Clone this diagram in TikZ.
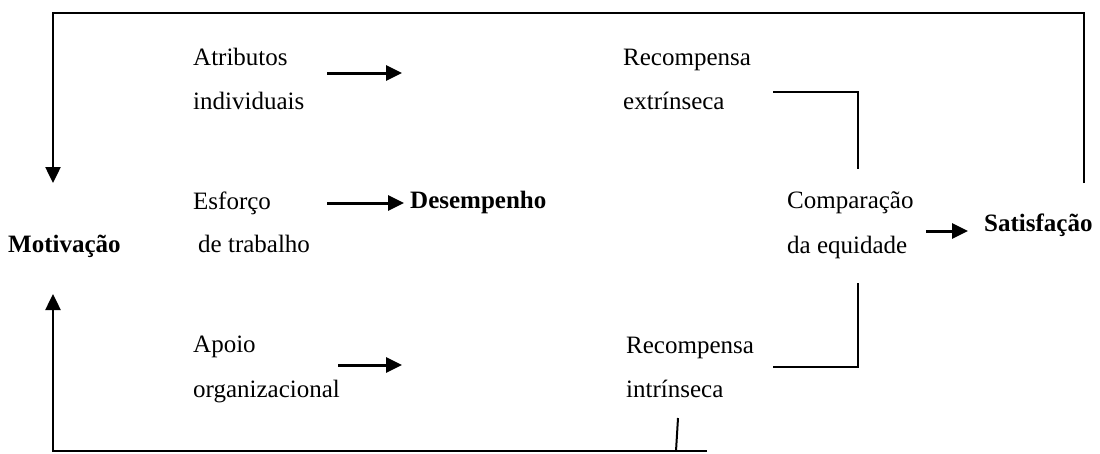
\documentclass[tikz,border=0pt]{standalone}
\usepackage{fontspec}
\setmainfont{Liberation Serif}
\usetikzlibrary{arrows.meta}

\tikzset{
  lbl/.style={anchor=base west, inner sep=0pt, font=\fontsize{25}{30}\selectfont},
  blbl/.style={lbl, font=\fontsize{25}{30}\selectfont\bfseries},
  tip/.style={-{Triangle[length=16pt,width=15pt]}},
  flow/.style={tip, line width=3pt},
  loop/.style={line width=2.5pt},
  link/.style={line width=2pt}
}

\begin{document}
\begin{tikzpicture}[x=1pt, y=-1pt]
\useasboundingbox (0,0) rectangle (1100,453);

% left column
\node [blbl] (mot) at (8,252) {Motivação};
\node [lbl] (atr1) at (193,65) {Atributos};
\node [lbl] (atr2) at (193,109) {individuais};
\node [lbl] (esf1) at (193,209) {Esforço};
\node [lbl] (esf2) at (198,252) {de trabalho};
\node [lbl] (apo1) at (193,352) {Apoio};
\node [lbl] (apo2) at (193,397) {organizacional};
\node [blbl] (des) at (410,208) {Desempenho};

% right column
\node [lbl] (rex1) at (623,65) {Recompensa};
\node [lbl] (rex2) at (623,109) {extrínseca};
\node [lbl] (cmp1) at (787,208) {Comparação};
\node [lbl] (cmp2) at (787,253) {da equidade};
\node [lbl] (rin1) at (626,353) {Recompensa};
\node [lbl] (rin2) at (626,397) {intrínseca};
\node [blbl] (sat) at (984,231) {Satisfação};

% free ends
\coordinate (atrA) at (327,73);   \coordinate (atrB) at (402,73);
\coordinate (esfA) at (327,203);  \coordinate (esfB) at (404,203);
\coordinate (apoA) at (338,365);  \coordinate (apoB) at (402,365);
\coordinate (cmpA) at (926,231);  \coordinate (cmpB) at (968,231);
\coordinate (satT) at (1084,183); \coordinate (motT) at (53,183);
\coordinate (rinB) at (678,418);  \coordinate (motB) at (53,294);

\draw [flow] (atrA) -- (atrB);
\draw [flow] (esfA) -- (esfB);
\draw [flow] (apoA) -- (apoB);
\draw [flow] (cmpA) -- (cmpB);

% feedback loops
\draw [loop, tip] (satT) -- (1084,13) -- (53,13) -- (motT);
\draw [link] (rinB) -- (676,451);
\draw [loop, tip] (707,451) -- (53,451) -- (motB);

% brackets
\draw [link] (773,92) -- (858,92) -- (858,169);
\draw [link] (858,283) -- (858,367) -- (773,367);

\end{tikzpicture}
\end{document}
